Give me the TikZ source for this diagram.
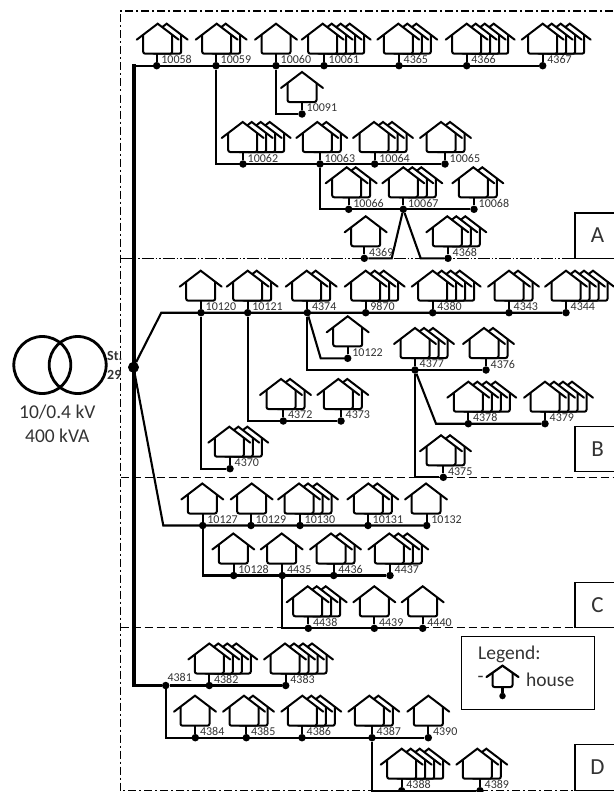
\documentclass[tikz,border=0pt]{standalone}
\usepackage{fontspec}
\setmainfont{Carlito}
\definecolor{inkgrey}{gray}{0.2}
\tikzset{
	bus/.style = {line width = 2.1pt},
	mainbus/.style = {line width = 3.4pt, line cap = rect},
	hut/.style = {line width = 2pt, rounded corners = 2pt, fill = white},
	feeder/.style = {circle, fill = black, inner sep = 0pt, minimum size = 7.5pt},
	lab/.style = {inner sep = 0pt, anchor = west, text = inkgrey, font = \fontsize{12}{14}\selectfont},
	big/.style = {inner sep = 0pt, text = inkgrey, font = \fontsize{19.5}{22}\selectfont},
	secbox/.style = {draw, line width = 1.4pt, fill = white, minimum width = 45pt, minimum height = 45.5pt, inner sep = 0pt, text = inkgrey, font = \fontsize{23}{25}\selectfont},
	winding/.style = {draw, circle, line width = 2.8pt, inner sep = 0pt, minimum size = 57pt},
	dashdot/.style = {line width = 1.5pt, dash pattern = on 8pt off 3pt on 2pt off 3pt},
	dashdotdot/.style = {line width = 1.4pt, dash pattern = on 12pt off 2pt on 1.5pt off 2pt on 1.5pt off 2pt},
	longdash/.style = {line width = 1.5pt, dash pattern = on 8pt off 4pt}
}
\newcommand\hut[3]{%
	\foreach \k in {#3,...,1} {
		\pgfmathsetmacro\off{#1 + (\k - 1)*9}
		\fill [white] (\off - 14.5, #2 + 11) -- (\off, #2) -- (\off + 14.5, #2 + 11) -- (\off + 14.5, #2 + 30) -- (\off - 14.5, #2 + 30) -- cycle ;
		\draw [hut, fill = none] (\off - 14.5, #2 + 11) -- (\off - 14.5, #2 + 30) -- (\off + 14.5, #2 + 30) -- (\off + 14.5, #2 + 11) ;
		\draw [line width = 2pt, line cap = round] (\off - 21, #2 + 16) -- (\off, #2) -- (\off + 21, #2 + 16) ;
	}
}
\begin{document}
\begin{tikzpicture}[x = 1pt, y = -1pt]
	\useasboundingbox (0, 0) rectangle (613, 792) ;
	\draw [dashdot] (613, 11) -- (120.5, 11) -- (120.5, 790.7) -- (613, 790.7) ;
	\draw [dashdotdot] (120.5, 258.5) -- (613, 258.5) ;
	\draw [longdash] (120.5, 477.7) -- (613, 477.7) ;
	\draw [longdash] (120.5, 627.7) -- (613, 627.7) ;
	\foreach \name/\dx/\dy/\ax/\layers in {
		10058/156.7/65.7/157.7/2, 10059/216/65.7/216.7/2, 10060/276/65.7/276/1, 10061/324/65.7/322.7/4,
		4365/399/65.7/398.3/3, 4366/466.7/65.7/466.7/4, 4367/542.7/65.7/542.7/4,
		10091/302/114/302/1, 10062/243/164/242.7/4, 10063/320/164/317.3/2, 10064/374.7/164/374/3,
		10065/445/164/441/2, 10066/348.7/209.3/346.7/2, 10067/403.3/209.3/403.3/3, 10068/474/209.3/473.3/2,
		4369/364.3/258.3/365.7/1, 4368/448/258.3/447.3/3,
		10120/201/312.7/200.7/1, 10121/247.7/312.7/247.7/2, 4374/307.3/312.7/306.7/2, 9870/365.7/312.7/365.7/3,
		4380/432.7/312.7/432.7/4, 4343/509/312.7/509/2, 4344/566/312.7/566/4,
		10122/347.7/358.3/347.7/1, 4377/415/370/415/3, 4376/486/370/484/2,
		4378/468.3/423.7/468.3/4, 4379/545/423.7/545/4, 4375/443.3/477.3/441/2,
		4372/283.3/421/281/2, 4373/341/421/338.3/2, 4370/230/468.7/229.3/3,
		10127/202.7/525.5/202.3/1, 10129/251/525.5/251.7/1, 10130/300/525.5/299/3, 10131/368/525.5/368.3/2, 10132/426.7/525.5/426/1,
		10128/233.7/575.5/233.3/1, 4435/282.3/575.5/281.7/1, 4436/333.7/575.5/331/2, 4437/390/575.5/389.3/3,
		4438/308.3/628.3/307.7/3, 4439/374.3/628.3/374.3/1, 4440/422.7/628.3/422.7/1,
		4382/209.3/685.5/209.3/4, 4383/285.7/685.5/285/4,
		4384/195.3/737.7/195/1, 4385/246.3/737.7/244/2, 4386/302/737.7/302.3/3, 4387/372/737.7/369.3/2, 4390/428.3/737.7/428.3/1,
		4388/401.7/790.7/401.7/4, 4389/480/790.7/477.3/2}
	{
		\pgfmathsetmacro\ay{\dy - 42}
		\hut{\ax}{\ay}{\layers}
		\node [feeder] (d\name) at (\dx, \dy) {} ;
		\draw [bus] (d\name) -- ++(0, -12) ;
		\node [lab] (l\name) at (\dx + 4.5, \dy - 6) {\name} ;
	}
	\node [feeder] (d4381) at (165.7, 685.5) {} ;
	\node [lab] (l4381) at (167.3, 677) {4381} ;
	\node [feeder, minimum size = 11pt] (st29) at (133.5, 367.3) {} ;
	\coordinate (toptee) at (134, 65.7) ;
	\coordinate (lowtee) at (134, 685.5) ;
	\coordinate (bbend) at (161.3, 312.7) ;
	\coordinate (cbend) at (163.3, 525.5) ;
	\draw [mainbus] (lowtee) -- (toptee) ;
	\draw [bus] (toptee) -- (d4367) ;
	\draw [bus] (d10060) |- (d10091) ;
	\draw [bus] (d10059) |- (d10065) ;
	\draw [bus] (d10063) |- (d10068) ;
	\coordinate (aleft) at (391.7, 258.3) ;
	\coordinate (aright) at (420.7, 258.3) ;
	\draw [bus] (d10067) -- (aleft) -- (d4369) ;
	\draw [bus] (d10067) -- (aright) -- (d4368) ;
	\draw [bus] (st29) -- (bbend) -- (d4344) ;
	\draw [bus] (d10120) |- (d4370) ;
	\draw [bus] (d10121) |- (d4373) ;
	\coordinate (tbend) at (320.7, 358.3) ;
	\draw [bus] (d4374) -- (tbend) -- (d10122) ;
	\draw [bus] (d4374) |- (d4376) ;
	\coordinate (rbend) at (436, 423.7) ;
	\draw [bus] (d4377) -- (rbend) -- (d4379) ;
	\draw [bus] (d4377) |- (d4375) ;
	\draw [bus] (st29) -- (cbend) -- (d10132) ;
	\draw [bus] (d10127) |- (d4437) ;
	\draw [bus] (d4435) |- (d4440) ;
	\draw [bus] (lowtee) -- (d4381) ;
	\draw [bus] (d4381) -- (d4383) ;
	\draw [bus] (d4381) |- (d4390) ;
	\draw [bus] (d4387) |- (d4389) ;
	\node [secbox] (boxa) at (597.5, 235.6) {A} ;
	\node [secbox] (boxb) at (597.5, 449) {B} ;
	\node [secbox] (boxc) at (597.5, 605) {C} ;
	\node [secbox] (boxd) at (597.5, 767.5) {D} ;
	\node [draw, line width = 1.4pt, minimum width = 132.6pt, minimum height = 72.6pt] (legendbox) at (528, 673) {} ;
	\node [big, anchor = west] (legendtxt) at (478, 654) {Legend:} ;
	\node [big, anchor = west] (dashtxt) at (477.5, 679.5) {-} ;
	\node [big, anchor = west] (housetxt) at (526, 680) {house} ;
	\node [feeder, minimum size = 6.5pt] (dlegend) at (502.5, 696) {} ;
	\draw [bus] (dlegend) -- ++(0, -9) ;
	\draw [hut, fill = none] (492.5, 673) -- (492.5, 687) -- (512.5, 687) -- (512.5, 673) ;
	\draw [line width = 2.2pt, line cap = round] (486.5, 677) -- (502.5, 665.7) -- (518.5, 677) ;
	\node [winding] (primary) at (42.3, 365) {} ;
	\node [winding] (secondary) at (77.7, 365) {} ;
	\node [big] (ratio) at (57.3, 411.7) {10/0.4 kV} ;
	\node [big] (rating) at (57.3, 435.7) {400 kVA} ;
	\node [lab, font = \fontsize{14}{16}\selectfont\bfseries] (st) at (107, 356) {St.} ;
	\node [lab, font = \fontsize{14}{16}\selectfont\bfseries] (no) at (107, 375) {29} ;
\end{tikzpicture}
\end{document}
